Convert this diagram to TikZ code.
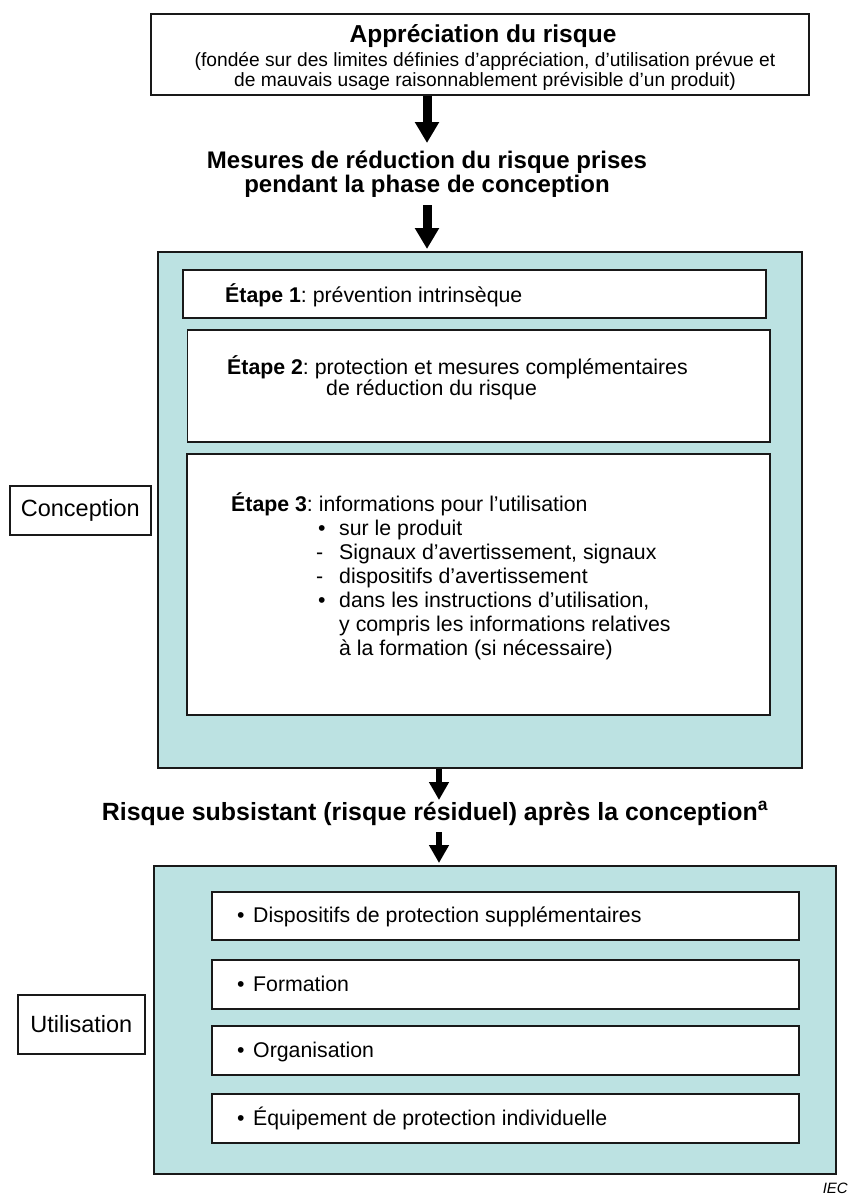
\documentclass[tikz,border=0pt]{standalone}
\usepackage{fontspec}
\setmainfont{Liberation Sans}
\usetikzlibrary{arrows.meta}
\definecolor{panelfill}{RGB}{188,226,226}
\definecolor{edgecol}{RGB}{25,25,25}
\frenchspacing
\begin{document}
\frenchspacing
\begin{tikzpicture}[x=1pt,y=-1pt,
  box/.style={draw=edgecol, line width=1.6pt, fill=white, inner sep=0pt, anchor=north west},
  panel/.style={draw=edgecol, line width=1.8pt, fill=panelfill, inner sep=0pt, anchor=north west},
  bodytxt/.style={inner sep=0pt, anchor=base west, font=\fontsize{21.3}{24}\selectfont},
  headtxt/.style={inner sep=0pt, anchor=base, font=\bfseries\fontsize{24.5}{27}\selectfont},
  subtxt/.style={inner sep=0pt, anchor=base, font=\fontsize{19.2}{20}\selectfont},
  labeltxt/.style={font=\fontsize{23.5}{26}\selectfont},
  bigarrow/.style={draw=black, line width=9pt, -{Triangle[width=23pt,length=21pt]}},
  smallarrow/.style={draw=black, line width=6.5pt, -{Triangle[width=19pt,length=18pt]}},
]
\useasboundingbox (0,0) rectangle (850,1194);

% top box
\node[box, minimum width=658pt, minimum height=81pt] (top) at (150,13) {};
\node[headtxt] (title) at (483,42) {Appréciation du risque};
\node[subtxt] (sub1) at (485,66) {(fondée sur des limites définies d’appréciation, d’utilisation prévue et};
\node[subtxt] (sub2) at (485,86) {de mauvais usage raisonnablement prévisible d’un produit)};

% arrow 1
\coordinate (a1e) at (427,143);
\draw[bigarrow] (top.south -| a1e) -- (a1e);

\node[headtxt, font=\bfseries\fontsize{24}{25}\selectfont] (mes1) at (427,168.5) {Mesures de réduction du risque prises};
\node[headtxt, font=\bfseries\fontsize{24}{25}\selectfont] (mes2) at (427,192.5) {pendant la phase de conception};

% conception panel
\node[panel, minimum width=644pt, minimum height=516pt] (conc) at (157,251) {};

% arrow 2
\coordinate (a2s) at (427,205);
\draw[bigarrow, shorten >=2pt] (a2s) -- (a2s |- conc.north);

% steps
\node[box, minimum width=583pt, minimum height=48pt] (s1) at (182,269) {};
\node[bodytxt] (s1t) at (225,302) {\textbf{Étape 1}: prévention intrinsèque};

\node[box, minimum width=582.5pt, minimum height=112pt] (s2) at (186.5,329) {};
\node[bodytxt] (s2t1) at (227,374) {\textbf{Étape 2}: protection et mesures complémentaires};
\node[bodytxt] (s2t2) at (326,395) {de réduction du risque};

\node[box, minimum width=583pt, minimum height=261pt] (s3) at (186,453) {};
\node[bodytxt] (s3t) at (231,511) {\setlength{\tabcolsep}{0pt}\begin{tabular}[t]{l}
\textbf{Étape 3}: informations pour l’utilisation\\
\hspace{87pt}\makebox[21pt][l]{•}sur le produit\\
\hspace{85pt}\makebox[23pt][l]{-}Signaux d’avertissement, signaux\\
\hspace{85pt}\makebox[23pt][l]{-}dispositifs d’avertissement\\
\hspace{87pt}\makebox[21pt][l]{•}dans les instructions d’utilisation,\\
\hspace{108pt}y compris les informations relatives\\
\hspace{108pt}à la formation (si nécessaire)
\end{tabular}};

% conception label
\node[box, labeltxt, minimum width=141pt, minimum height=49pt] (lconc) at (9,485) {Conception};

% arrow 3
\coordinate (a3e) at (439,800);
\draw[smallarrow] (conc.south -| a3e) -- (a3e);

\node[headtxt, font=\bfseries\fontsize{24.9}{27}\selectfont] (risk) at (435,820) {Risque subsistant (risque résiduel) après la conception\textsuperscript{a}};

% utilisation panel
\node[panel, minimum width=682pt, minimum height=308pt] (util) at (153,865) {};

% arrow 4
\coordinate (a4s) at (439,832);
\draw[smallarrow, shorten >=2pt] (a4s) -- (a4s |- util.north);

% items
\node[box, minimum width=587pt, minimum height=48pt] (u1) at (211,891) {};
\node[bodytxt] (u1t) at (237,922.5) {\makebox[16pt][l]{•}Dispositifs de protection supplémentaires};
\node[box, minimum width=587pt, minimum height=49pt] (u2) at (211,959) {};
\node[bodytxt] (u2t) at (237,991) {\makebox[16pt][l]{•}Formation};
\node[box, minimum width=587pt, minimum height=49pt] (u3) at (211,1025) {};
\node[bodytxt] (u3t) at (237,1057) {\makebox[16pt][l]{•}Organisation};
\node[box, minimum width=587pt, minimum height=49pt] (u4) at (211,1093) {};
\node[bodytxt] (u4t) at (237,1125) {\makebox[16pt][l]{•}Équipement de protection individuelle};

% utilisation label
\node[box, labeltxt, minimum width=127pt, minimum height=59pt] (lutil) at (17,994) {Utilisation};

% IEC
\node[inner sep=0pt, anchor=base east, font=\itshape\fontsize{15}{16}\selectfont] (iec) at (848,1193) {IEC};
\end{tikzpicture}
\end{document}
